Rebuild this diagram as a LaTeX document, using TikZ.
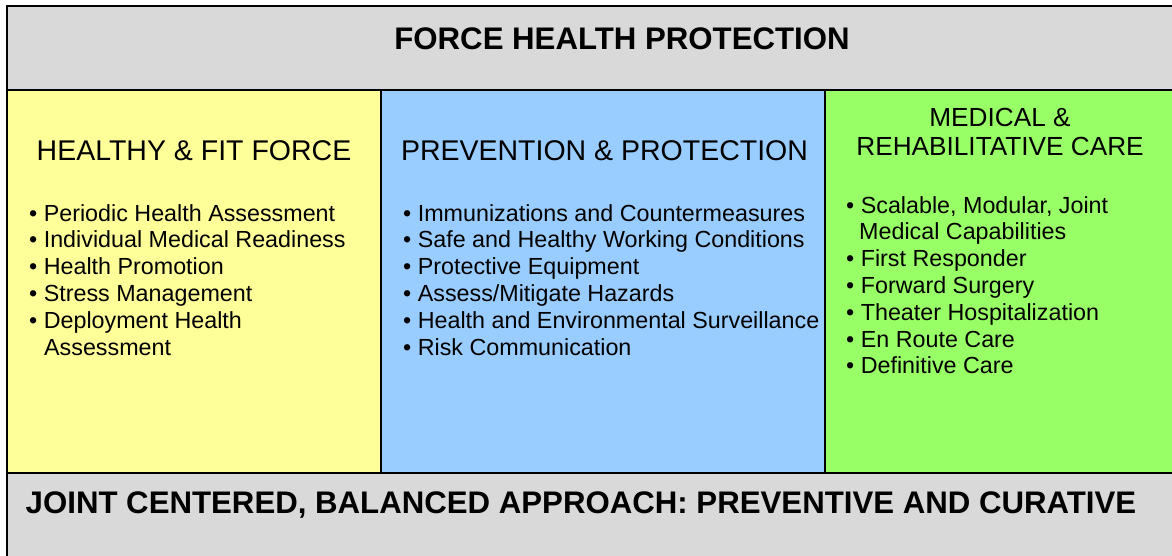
\documentclass[tikz,border=0pt]{standalone}
\usepackage{fontspec}
\setmainfont{Liberation Sans}
\definecolor{bandgray}{HTML}{D9D9D9}
\definecolor{fityellow}{HTML}{FFFF99}
\definecolor{protblue}{HTML}{99CCFF}
\definecolor{caregreen}{HTML}{99FF66}
\begin{document}
\begin{tikzpicture}[x=1pt,y=-1pt,
  panel/.style={draw=black,line width=1.5pt},
  head/.style={anchor=base,inner sep=0pt,font=\fontsize{28.5}{29}\selectfont},
  headsmall/.style={anchor=base,inner sep=0pt,font=\fontsize{26.2}{27}\selectfont},
  band/.style={anchor=base,inner sep=0pt,font=\fontsize{31.2}{32}\selectfont\bfseries},
  items/.style={anchor=base west,inner sep=0pt,align=left,font=\fontsize{23.3}{26.8}\selectfont}]
\useasboundingbox (0,0) rectangle (1172,555);
% panels
\fill[white] (0,0) rectangle (1172,555);
\draw[panel,fill=bandgray] (7,6) rectangle (1190,90);
\draw[panel,fill=fityellow] (7,90) rectangle (381,473);
\draw[panel,fill=protblue] (381,90) rectangle (825,473);
\draw[panel,fill=caregreen] (825,90) rectangle (1190,473);
\draw[panel,fill=bandgray] (7,473) rectangle (1190,580);
% texts
\node[band] (title) at (622,49) {FORCE HEALTH PROTECTION};
\node[band] (bottom) at (581,513) {JOINT CENTERED, BALANCED APPROACH: PREVENTIVE AND CURATIVE};
\node[head] (h1) at (194,160) {HEALTHY \& FIT FORCE};
\node[head] (h2) at (604.5,160) {PREVENTION \& PROTECTION};
\node[headsmall] (h3a) at (1000,126) {MEDICAL \&};
\node[headsmall] (h3b) at (1000,155) {REHABILITATIVE CARE};
% lists (base anchor = baseline of the last line)
\node[items] (l1) at (29,355) {• Periodic Health Assessment\\• Individual Medical Readiness\\• Health Promotion\\• Stress Management\\• Deployment Health\\\hspace{15pt}Assessment};
\node[items] (l2) at (403,355) {• Immunizations and Countermeasures\\• Safe and Healthy Working Conditions\\• Protective Equipment\\• Assess/Mitigate Hazards\\• Health and Environmental Surveillance\\• Risk Communication};
\node[items] (l3) at (846,373.8) {• Scalable, Modular, Joint\\\hspace{13pt}Medical Capabilities\\• First Responder\\• Forward Surgery\\• Theater Hospitalization\\• En Route Care\\• Definitive Care};
\end{tikzpicture}
\end{document}
